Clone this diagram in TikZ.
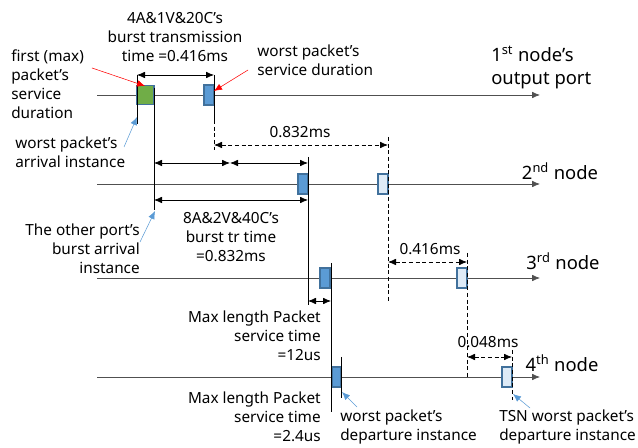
\documentclass[tikz,border=0pt]{standalone}
\usepackage{fontspec}
\setmainfont{Noto Sans}
\usetikzlibrary{shapes,arrows.meta}
\definecolor{pktblue}{RGB}{91,155,213}
\definecolor{pktedge}{RGB}{65,113,156}
\definecolor{pktgreen}{RGB}{112,173,71}
\definecolor{pktlight}{RGB}{222,235,247}
\definecolor{axisgray}{RGB}{80,80,80}

\begin{document}
\begin{tikzpicture}[x=0.75pt,y=-0.75pt]
\tikzset{
pkt/.style={rectangle,draw=pktedge,fill=pktblue,thick,inner sep=0pt,minimum width=7.5pt,minimum height=15pt},
firstpkt/.style={pkt,fill=pktgreen,minimum width=12.75pt,minimum height=14.5pt},
tsnpkt/.style={pkt,fill=pktlight},
axis/.style={-{Latex[length=6pt,width=5pt]}, draw=axisgray, semithick},
instline/.style={semithick},
instdash/.style={semithick, densely dashed},
mydoublearrow/.style={{Latex[length=6pt,width=5pt]}-{Latex[length=6pt,width=5pt]}, semithick},
dottedarrow/.style={{Latex[length=6pt,width=5pt]}-{Latex[length=6pt,width=5pt]}, semithick, densely dashed},
redarrow/.style={-{Latex[length=6pt,width=5pt]}, red, thin},
bluearrow/.style={-{Latex[length=6pt,width=5pt]}, pktblue, thin},
mylabel/.style={font=\fontsize{11.5}{14.25}\selectfont, inner sep=0pt},
nodelabel/.style={font=\fontsize{13.8}{17.25}\selectfont, inner sep=0pt, align=left},
}
\useasboundingbox (0,0) rectangle (638,448);

% time axes
\foreach \y/\n in {95/1,184/2,278/3,377/4} {
  \coordinate (s\n) at (97,\y);
  \coordinate (e\n) at (540,\y);
  \draw[axis] (s\n) -- (e\n);
}

% packets
\node[firstpkt] (first) at (145.5,95) {};
\node[pkt] (wst1) at (209,95) {};
\node[pkt] (wst2) at (303,184) {};
\node[tsnpkt] (tsn2) at (383,184) {};
\node[pkt] (wst3) at (325,278) {};
\node[tsnpkt] (tsn3) at (462,278) {};
\node[pkt, minimum width=6.75pt] (wst4) at (336.5,377) {};
\node[tsnpkt] (tsn4) at (507,377) {};

% instants
\coordinate (a1) at (137,75);  \coordinate (a2) at (137,124);
\coordinate (b1) at (154,88);  \coordinate (b2) at (154,210);
\coordinate (c1) at (214,75);  \coordinate (c2) at (214,120);
\coordinate (c3) at (214,150);
\coordinate (d1) at (308,157); \coordinate (d2) at (308,305);
\coordinate (f1) at (331,263); \coordinate (f2) at (331,412);
\coordinate (g1) at (341,357); \coordinate (g2) at (341,398);
\coordinate (h1) at (388,137); \coordinate (h2) at (388,302);
\coordinate (k1) at (467,253); \coordinate (k2) at (467,378);
\coordinate (m1) at (512,350); \coordinate (m2) at (512,400);
\draw[instline] (a1) -- (a2);
\draw[instline] (b1) -- (b2);
\draw[instline] (c1) -- (c2);
\draw[instdash] (c2) -- (c3);
\draw[instline] (d1) -- (d2);
\draw[instline] (f1) -- (f2);
\draw[instline] (g1) -- (g2);
\draw[instdash] (h1) -- (h2);
\draw[instdash] (k1) -- (k2);
\draw[instdash] (m1) -- (m2);

% durations
\coordinate (q1) at (154,163); \coordinate (q2) at (230,163);
\coordinate (q3) at (308,163);
\coordinate (r1) at (154,200); \coordinate (r2) at (308,200);
\coordinate (u1) at (308,301); \coordinate (u2) at (331,301);
\coordinate (v1) at (214,145); \coordinate (v2) at (388,145);
\coordinate (w1) at (388,262); \coordinate (w2) at (467,262);
\coordinate (z1) at (467,357); \coordinate (z2) at (512,357);
\draw[mydoublearrow] (a1) -- (c1);
\draw[mydoublearrow] (q1) -- (q2);
\draw[mydoublearrow] (q2) -- (q3);
\draw[mydoublearrow] (r1) -- (r2);
\draw[mydoublearrow] (u1) -- (u2);
\draw[dottedarrow] (v1) -- (v2);
\draw[dottedarrow] (w1) -- (w2);
\draw[dottedarrow] (z1) -- (z2);

% labels
\node[mylabel, align=center] (burst1) at (175,37) {4A\&1V\&20C’s\\burst transmission\\time =0.416ms};
\node[mylabel, align=left, anchor=west] (firstlbl) at (11,84) {first (max)\\packet’s\\service\\duration};
\node[mylabel, align=left, anchor=west] (servlbl) at (257,60) {worst packet’s\\service duration};
\node[nodelabel, anchor=west] (node1) at (491,67) {1\textsuperscript{st} node’s\\output port};
\node[mylabel, align=left, anchor=west] (arrlbl) at (15,152) {worst packet’s\\arrival instance};
\node[mylabel] (d832) at (300,132) {0.832ms};
\node[nodelabel] (node2) at (560,171) {2\textsuperscript{nd} node};
\node[mylabel, align=right, anchor=east] (otherlbl) at (140,249) {The other port’s\\burst arrival\\instance};
\node[mylabel, align=center] (burst2) at (231,237) {8A\&2V\&40C’s\\burst tr time\\=0.832ms};
\node[mylabel] (d416) at (430,249) {0.416ms};
\node[nodelabel] (node3) at (563,261) {3\textsuperscript{rd} node};
\node[mylabel, align=right, anchor=east] (max12) at (321,336) {Max length Packet\\service time\\=12us};
\node[mylabel] (d048) at (488,342) {0.048ms};
\node[nodelabel] (node4) at (562,363) {4\textsuperscript{th} node};
\node[mylabel, align=right, anchor=east] (max24) at (321,417) {Max length Packet\\service time\\=2.4us};
\node[mylabel, align=left, anchor=west] (deplbl) at (340,427) {worst packet’s\\departure instance};
\node[mylabel, align=left, anchor=west] (tsnlbl) at (499,427) {TSN worst packet’s\\departure instance};

% pointers
\coordinate (p1) at (92,68);   \coordinate (p2) at (145,86);
\coordinate (p3) at (248,70);  \coordinate (p4) at (214,91);
\coordinate (p5) at (124,147); \coordinate (p6) at (137,117);
\coordinate (p7) at (140,242); \coordinate (p8) at (155,211);
\coordinate (p9) at (357,407); \coordinate (p10) at (342,392);
\coordinate (p11) at (530,408); \coordinate (p12) at (513,394);
\draw[redarrow] (p1) -- (p2);
\draw[redarrow] (p3) -- (p4);
\draw[bluearrow] (p5) -- (p6);
\draw[bluearrow] (p7) -- (p8);
\draw[bluearrow] (p9) -- (p10);
\draw[bluearrow] (p11) -- (p12);
\end{tikzpicture}
\end{document}
